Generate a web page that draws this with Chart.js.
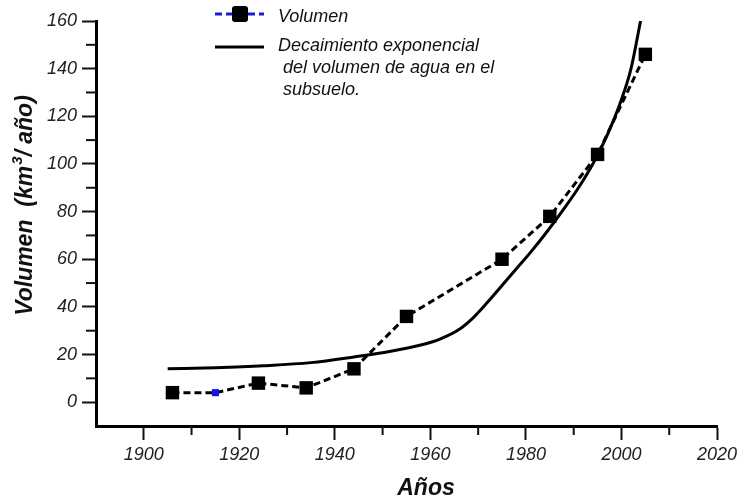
<!DOCTYPE html>
<html>
<head>
<meta charset="utf-8">
<script src="https://cdn.jsdelivr.net/npm/chart.js@4"></script>
<style>
  html, body { margin: 0; padding: 0; background: #fff; }
  canvas { display: block; }
</style>
</head>
<body>
<canvas id="volChart" width="737" height="499"></canvas>
<script>
// Volumen medido (km3/año)
const volYears = [1906, 1915, 1924, 1934, 1944, 1955, 1975, 1985, 1995, 2005];
const volValues = [4, 4, 8, 6, 14, 36, 60, 78, 104, 146];

// Curva de decaimiento exponencial
const fitYears = [1905, 1915, 1925, 1935, 1944, 1952, 1958, 1962, 1966, 1969, 1972, 1975, 1978, 1981, 1984, 1987, 1991, 1994, 1997, 2000, 2002, 2004];
const fitValues = [14, 14.5, 15.3, 16.6, 19, 21.5, 24, 26.5, 30.5, 35.5, 42, 49, 56, 63, 70.5, 78.5, 90, 100, 112, 127, 140, 160];

const xLabel = 'Años';
const legendVol = 'Volumen';
const legendFit = ['Decaimiento exponencial', ' del volumen de agua en el', ' subsuelo.'];

const FONT = '"Liberation Sans", Arial, Helvetica, sans-serif';

function pts(xs, ys) {
    return xs.map((x, i) => ({ x: x, y: ys[i] }));
}

// minor ticks, axis titles and the legend box
const decorations = {
    id: 'decorations',
    afterDraw(chart) {
        const { ctx, chartArea, scales: { x, y } } = chart;
        ctx.save();

        // minor ticks
        ctx.strokeStyle = '#111';
        ctx.lineWidth = 2;
        x.ticks.forEach(t => {
            if (t.value % 20 === 0 || t.value === x.min) return;
            const px = x.getPixelForValue(t.value);
            ctx.beginPath();
            ctx.moveTo(px, chartArea.bottom);
            ctx.lineTo(px, chartArea.bottom + 9);
            ctx.stroke();
        });
        y.ticks.forEach(t => {
            if (t.value % 20 === 0 || t.value === y.min) return;
            const py = y.getPixelForValue(t.value);
            ctx.beginPath();
            ctx.moveTo(chartArea.left - 10, py);
            ctx.lineTo(chartArea.left, py);
            ctx.stroke();
        });

        // x title
        ctx.fillStyle = '#111';
        ctx.font = 'italic bold 23px ' + FONT;
        ctx.textAlign = 'center';
        ctx.textBaseline = 'alphabetic';
        ctx.fillText(xLabel, 426, 495);

        // y title with superscript
        ctx.save();
        ctx.translate(32, 206);
        ctx.rotate(-Math.PI / 2);
        const bigFont = 'italic bold 23px ' + FONT;
        const supFont = 'italic bold 15px ' + FONT;
        const partA = 'Volumen  (km';
        const partB = '3';
        const partC = '/ año)';
        ctx.font = bigFont;
        const wA = ctx.measureText(partA).width;
        const wC = ctx.measureText(partC).width;
        ctx.font = supFont;
        const wB = ctx.measureText(partB).width;
        let cx = -(wA + wB + wC) / 2;
        ctx.textAlign = 'left';
        ctx.font = bigFont;
        ctx.fillText(partA, cx, 0);
        cx += wA;
        ctx.font = supFont;
        ctx.fillText(partB, cx + 1, -10);
        cx += wB + 1;
        ctx.font = bigFont;
        ctx.fillText(partC, cx, 0);
        ctx.restore();

        // legend
        ctx.lineWidth = 3;
        ctx.strokeStyle = '#1a1adb';
        ctx.setLineDash([7, 4]);
        ctx.beginPath();
        ctx.moveTo(215, 14);
        ctx.lineTo(264, 14);
        ctx.stroke();
        ctx.setLineDash([]);
        ctx.fillStyle = '#000';
        ctx.beginPath();
        ctx.roundRect(232, 6, 16, 16, 3);
        ctx.fill();

        ctx.strokeStyle = '#000';
        ctx.beginPath();
        ctx.moveTo(215, 47);
        ctx.lineTo(264, 47);
        ctx.stroke();

        ctx.fillStyle = '#111';
        ctx.font = 'italic 18px ' + FONT;
        ctx.textAlign = 'left';
        ctx.fillText(legendVol, 278, 22);
        legendFit.forEach((line, i) => {
            ctx.fillText(line, 278, 51 + i * 22);
        });

        ctx.restore();
    }
};

const ctx = document.getElementById('volChart').getContext('2d');
const chart = new Chart(ctx, {
    type: 'line',
    data: {
        datasets: [
            {
                label: legendVol,
                data: pts(volYears, volValues),
                borderColor: '#000',
                borderWidth: 3,
                borderDash: [7, 4],
                tension: 0,
                pointStyle: 'rect',
                pointRadius: c => (c.dataIndex === 1 ? 5 : 9.5),
                pointBackgroundColor: c => (c.dataIndex === 1 ? '#1414e6' : '#000'),
                pointBorderColor: c => (c.dataIndex === 1 ? '#1414e6' : '#000'),
                pointBorderWidth: 0
            },
            {
                label: 'Decaimiento exponencial',
                data: pts(fitYears, fitValues),
                borderColor: '#000',
                borderWidth: 3,
                pointRadius: 0,
                cubicInterpolationMode: 'monotone'
            }
        ]
    },
    options: {
        responsive: false,
        animation: false,
        devicePixelRatio: 1,
        layout: { padding: { top: 21, right: 20, left: 0, bottom: 0 } },
        plugins: {
            legend: { display: false },
            tooltip: { enabled: false }
        },
        scales: {
            x: {
                type: 'linear',
                min: 1890,
                max: 2020,
                afterFit: s => { s.height = 73; s.paddingRight = 0; s.paddingLeft = 0; },
                border: { display: true, color: '#000', width: 3 },
                grid: {
                    drawOnChartArea: false,
                    drawTicks: true,
                    tickLength: 14,
                    tickWidth: 2,
                    tickColor: c => (c.tick && c.tick.value % 20 === 0 ? '#111' : 'rgba(0,0,0,0)')
                },
                ticks: {
                    stepSize: 10,
                    maxRotation: 0,
                    autoSkip: false,
                    padding: 4,
                    color: '#222',
                    font: { family: FONT, size: 18, style: 'italic' },
                    callback: v => (v % 20 === 0 ? String(v) : '')
                }
            },
            y: {
                min: -10,
                max: 160,
                afterFit: s => { s.width = 96; s.paddingTop = 0; s.paddingBottom = 0; },
                border: { display: true, color: '#000', width: 3 },
                grid: {
                    drawOnChartArea: false,
                    drawTicks: true,
                    tickLength: 14,
                    tickWidth: 2,
                    tickColor: c => (c.tick && c.tick.value % 20 === 0 ? '#111' : 'rgba(0,0,0,0)')
                },
                ticks: {
                    stepSize: 10,
                    autoSkip: false,
                    padding: 5,
                    color: '#222',
                    font: { family: FONT, size: 18, style: 'italic' },
                    callback: v => (v % 20 === 0 ? String(v) : '')
                }
            }
        }
    },
    plugins: [decorations]
});
</script>
</body>
</html>
